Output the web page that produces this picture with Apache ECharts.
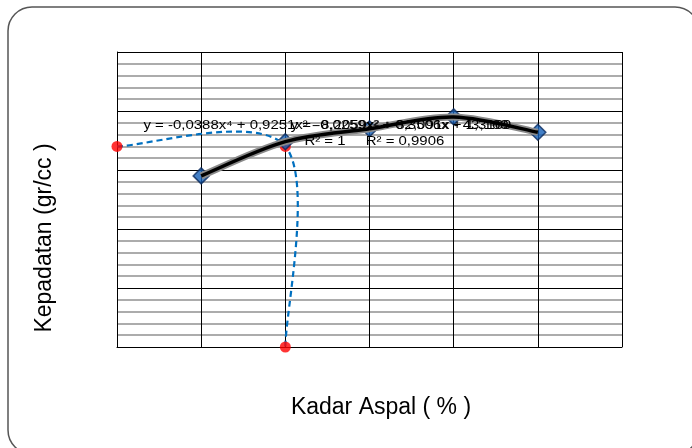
<!DOCTYPE html>
<html>
<head>
<meta charset="utf-8">
<script src="https://cdn.jsdelivr.net/npm/echarts@6/dist/echarts.min.js"></script>
<style>
  html, body { margin: 0; padding: 0; background: #fff; }
  #chart { width: 692px; height: 448px; }
</style>
</head>
<body>
<div id="chart"></div>
<script>
// Asphalt content (%) and measured density (gr/cc)
const kadarAspal = [5.0, 5.5, 6.0, 6.5, 7.0];
const kepadatan = [2.345, 2.374, 2.385, 2.395, 2.382];

// Optimum asphalt content guide: from the y axis to the curve, then down to the x axis
const kadarOptimum = 5.5;
const kepadatanOptimum = 2.370;

// Axis extents
const xMin = 4.5, xMax = 7.5, xStep = 0.5;
const yMin = 2.20, yMax = 2.45, yStep = 0.05;

// Trendline labels
const persamaanOrde4 = 'y = -0,0388x⁴ + 0,9251x³ - 8,2059x² + 32,091x - 43,169';
const r2Orde4 = 'R² = 1';
const persamaanOrde2 = 'y = -0,0259x² + 0,3506x + 1,3169';
const r2Orde2 = 'R² = 0,9906';

const judulX = 'Kadar Aspal ( % )';
const judulY = 'Kepadatan (gr/cc )';

const titik = kadarAspal.map((x, i) => [x, kepadatan[i]]);
const garisOptimum = [
  [xMin, kepadatanOptimum],
  [kadarOptimum, kepadatanOptimum],
  [kadarOptimum, yMin]
];

// Smoothed (Catmull-Rom style) path through pixel points, like a spreadsheet "smoothed line"
function smoothPath(pts) {
  let d = 'M' + pts[0][0] + ' ' + pts[0][1];
  for (let i = 0; i < pts.length - 1; i++) {
    const p0 = pts[i - 1] || pts[i];
    const p1 = pts[i];
    const p2 = pts[i + 1];
    const p3 = pts[i + 2] || pts[i + 1];
    const c1x = p1[0] + (p2[0] - p0[0]) / 6, c1y = p1[1] + (p2[1] - p0[1]) / 6;
    const c2x = p2[0] - (p3[0] - p1[0]) / 6, c2y = p2[1] - (p3[1] - p1[1]) / 6;
    d += ' C' + c1x + ' ' + c1y + ' ' + c2x + ' ' + c2y + ' ' + p2[0] + ' ' + p2[1];
  }
  return d;
}

const chart = echarts.init(document.getElementById('chart'), null, { renderer: 'canvas' });
const font = '"Liberation Sans", Arial, sans-serif';
const stretch = 1.15;

chart.setOption({
  animation: false,
  backgroundColor: '#fff',
  grid: { left: 117, right: 70, top: 52, bottom: 101, containLabel: false },
  xAxis: {
    type: 'value', min: xMin, max: xMax, interval: xStep,
    axisLine: { show: true, onZero: false, lineStyle: { color: '#000', width: 1 } },
    axisTick: { show: false },
    axisLabel: { show: false },
    splitLine: { show: true, lineStyle: { color: '#000', width: 1 } }
  },
  yAxis: {
    type: 'value', min: yMin, max: yMax, interval: yStep,
    axisLine: { show: true, onZero: false, lineStyle: { color: '#000', width: 1 } },
    axisTick: { show: false },
    axisLabel: { show: false },
    splitLine: { show: true, lineStyle: { color: '#000', width: 1 } },
    minorTick: { show: false, splitNumber: 5 },
    minorSplitLine: { show: true, lineStyle: { color: '#acacac', width: 2 } }
  },
  series: [
    {
      // dashed guide to the optimum asphalt content
      type: 'custom',
      z: 2,
      silent: true,
      data: [garisOptimum[1]],
      renderItem: function (params, api) {
        const pts = garisOptimum.map(p => api.coord(p));
        return {
          type: 'path',
          shape: { pathData: smoothPath(pts) },
          style: { fill: 'none', stroke: '#0070c0', lineWidth: 2.2, lineDash: [6, 4] }
        };
      }
    },
    {
      type: 'scatter',
      data: garisOptimum,
      z: 3,
      symbol: 'circle',
      symbolSize: 11,
      clip: false,
      itemStyle: { color: '#ff0000' }
    },
    {
      type: 'scatter',
      data: titik,
      z: 4,
      symbol: 'diamond',
      symbolSize: [16, 16],
      itemStyle: { color: '#1560b8', borderColor: '#0b2a5c', borderWidth: 1.5 }
    },
    {
      // fitted curve through the measured points, with a grey shadow
      type: 'custom',
      z: 5,
      silent: true,
      data: [titik[0]],
      renderItem: function (params, api) {
        const pts = titik.map(p => api.coord(p));
        const d = smoothPath(pts);
        return {
          type: 'group',
          children: [
            { type: 'path', shape: { pathData: d }, style: { fill: 'none', stroke: '#8a8a8a', lineWidth: 7 } },
            { type: 'path', shape: { pathData: d }, style: { fill: 'none', stroke: '#000', lineWidth: 3.5 } }
          ]
        };
      }
    }
  ],
  graphic: [
    {
      type: 'rect', z: 0, silent: true,
      shape: { x: 8, y: 7, width: 691, height: 447, r: 24 },
      style: { fill: 'none', stroke: '#555', lineWidth: 1.5 }
    },
    {
      type: 'text', z: 10, x: 326, y: 125, scaleX: stretch,
      style: { text: persamaanOrde4, font: '13px ' + font, fill: '#000', align: 'center', verticalAlign: 'middle' }
    },
    {
      type: 'text', z: 10, x: 401, y: 125, scaleX: stretch,
      style: { text: persamaanOrde2, font: '13px ' + font, fill: '#000', align: 'center', verticalAlign: 'middle' }
    },
    {
      type: 'text', z: 10, x: 325, y: 141, scaleX: stretch,
      style: { text: r2Orde4, font: '13px ' + font, fill: '#000', align: 'center', verticalAlign: 'middle' }
    },
    {
      type: 'text', z: 10, x: 405, y: 141, scaleX: stretch,
      style: { text: r2Orde2, font: '13px ' + font, fill: '#000', align: 'center', verticalAlign: 'middle' }
    },
    {
      type: 'text', z: 10, x: 381, y: 408,
      style: { text: judulX, font: '23px ' + font, fill: '#000', align: 'center', verticalAlign: 'middle' }
    },
    {
      type: 'text', z: 10, x: 45, y: 238, rotation: Math.PI / 2,
      style: { text: judulY, font: '23px ' + font, fill: '#000', align: 'center', verticalAlign: 'middle' }
    }
  ]
});
</script>
</body>
</html>
